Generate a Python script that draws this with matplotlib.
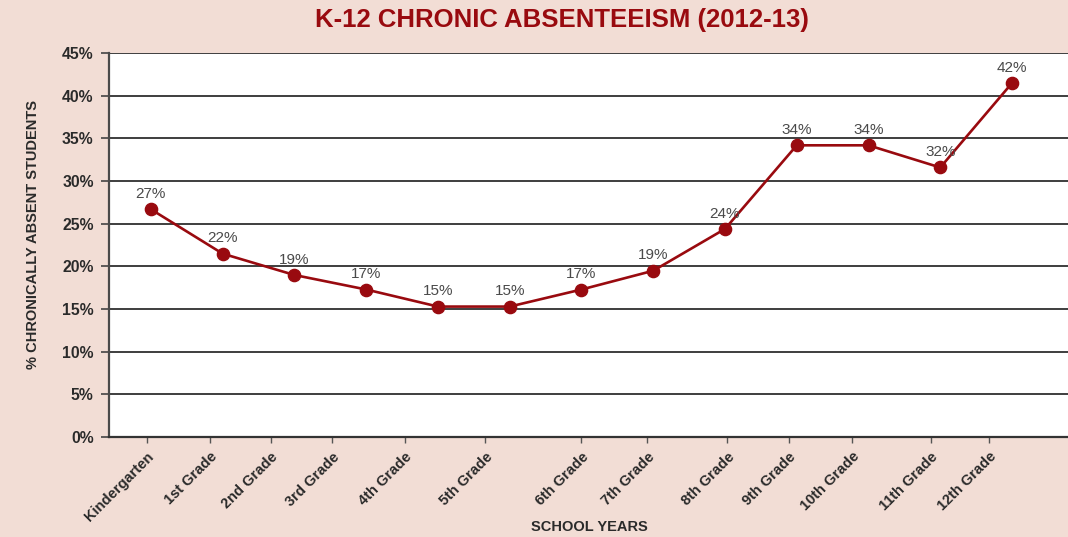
import matplotlib
matplotlib.use("Agg")
import matplotlib.pyplot as plt

# ---- data ----
categories = ["Kindergarten", "1st Grade", "2nd Grade", "3rd Grade", "4th Grade",
              "5th Grade", "6th Grade", "7th Grade", "8th Grade", "9th Grade",
              "10th Grade", "11th Grade", "12th Grade"]
values = [26.7, 21.5, 19.0, 17.3, 15.3, 15.3, 17.3, 19.5, 24.4, 34.2, 34.2, 31.6, 41.5]
value_labels = ["27%", "22%", "19%", "17%", "15%", "15%", "17%", "19%", "24%",
                "34%", "34%", "32%", "42%"]
y_ticks = [0, 5, 10, 15, 20, 25, 30, 35, 40, 45]
y_tick_labels = ["0%", "5%", "10%", "15%", "20%", "25%", "30%", "35%", "40%", "45%"]
title = "K-12 CHRONIC ABSENTEEISM (2012-13)"
x_title = "SCHOOL YEARS"
y_title = "% CHRONICALLY ABSENT STUDENTS"

# ---- style / layout ----
BG = "#F2DDD5"
RED = "#990A0F"
TXT = "#2A2A2A"
tick_shift = [-0.06, -0.18, -0.33, -0.47, -0.46, -0.34, 0.0, -0.08, 0.03,
              -0.11, -0.23, -0.13, -0.32]

plt.rcParams["font.family"] = ["Liberation Sans", "DejaVu Sans"]

fig = plt.figure(figsize=(10.68, 5.37), dpi=100, facecolor=BG)
ax = fig.add_axes([0.102, 0.186, 0.898, 0.715])
ax.set_facecolor("white")

x = list(range(len(categories)))
ax.plot(x, values, color=RED, lw=1.9, marker="o", markersize=8.8, zorder=3,
        clip_on=False)
for xi, v, lab in zip(x, values, value_labels):
    ax.annotate(lab, (xi, v), xytext=(0, 11), textcoords="offset points",
                ha="center", va="center", fontsize=11, color="#4A4A4A", zorder=4)

ax.set_ylim(0, 45)
ax.set_xlim(-0.585, 12.78)
ax.set_yticks(y_ticks)
ax.set_yticklabels(y_tick_labels, fontsize=11.3, fontweight="bold", color=TXT)
for yv in y_ticks[1:]:
    ax.axhline(yv, color="#1E1E1E", lw=1.2, zorder=1)

ax.set_xticks([xi + s for xi, s in zip(x, tick_shift)])
ax.set_xticklabels(categories, rotation=45, ha="right", rotation_mode="anchor",
                   fontsize=10.5, fontweight="bold", color=TXT)

ax.tick_params(axis="y", length=6, width=1.2, color="#444444", pad=5)
ax.tick_params(axis="x", length=4, width=1.0, color="#555555", pad=5)

for side in ["top", "right"]:
    ax.spines[side].set_visible(False)
ax.spines["left"].set_color("#4A4A4A")
ax.spines["left"].set_linewidth(1.6)
ax.spines["bottom"].set_color("#333333")
ax.spines["bottom"].set_linewidth(1.6)

fig.text(0.526, 0.962, title, ha="center", va="center", fontsize=18.5,
         fontweight="bold", color=RED)
fig.text(0.552, 0.018, x_title, ha="center", va="center", fontsize=10.5,
         fontweight="bold", color=TXT)
fig.text(0.031, 0.563, y_title, ha="center", va="center", rotation=90,
         fontsize=10.5, fontweight="bold", color=TXT)

fig.savefig("out.png", dpi=100, facecolor=BG)
